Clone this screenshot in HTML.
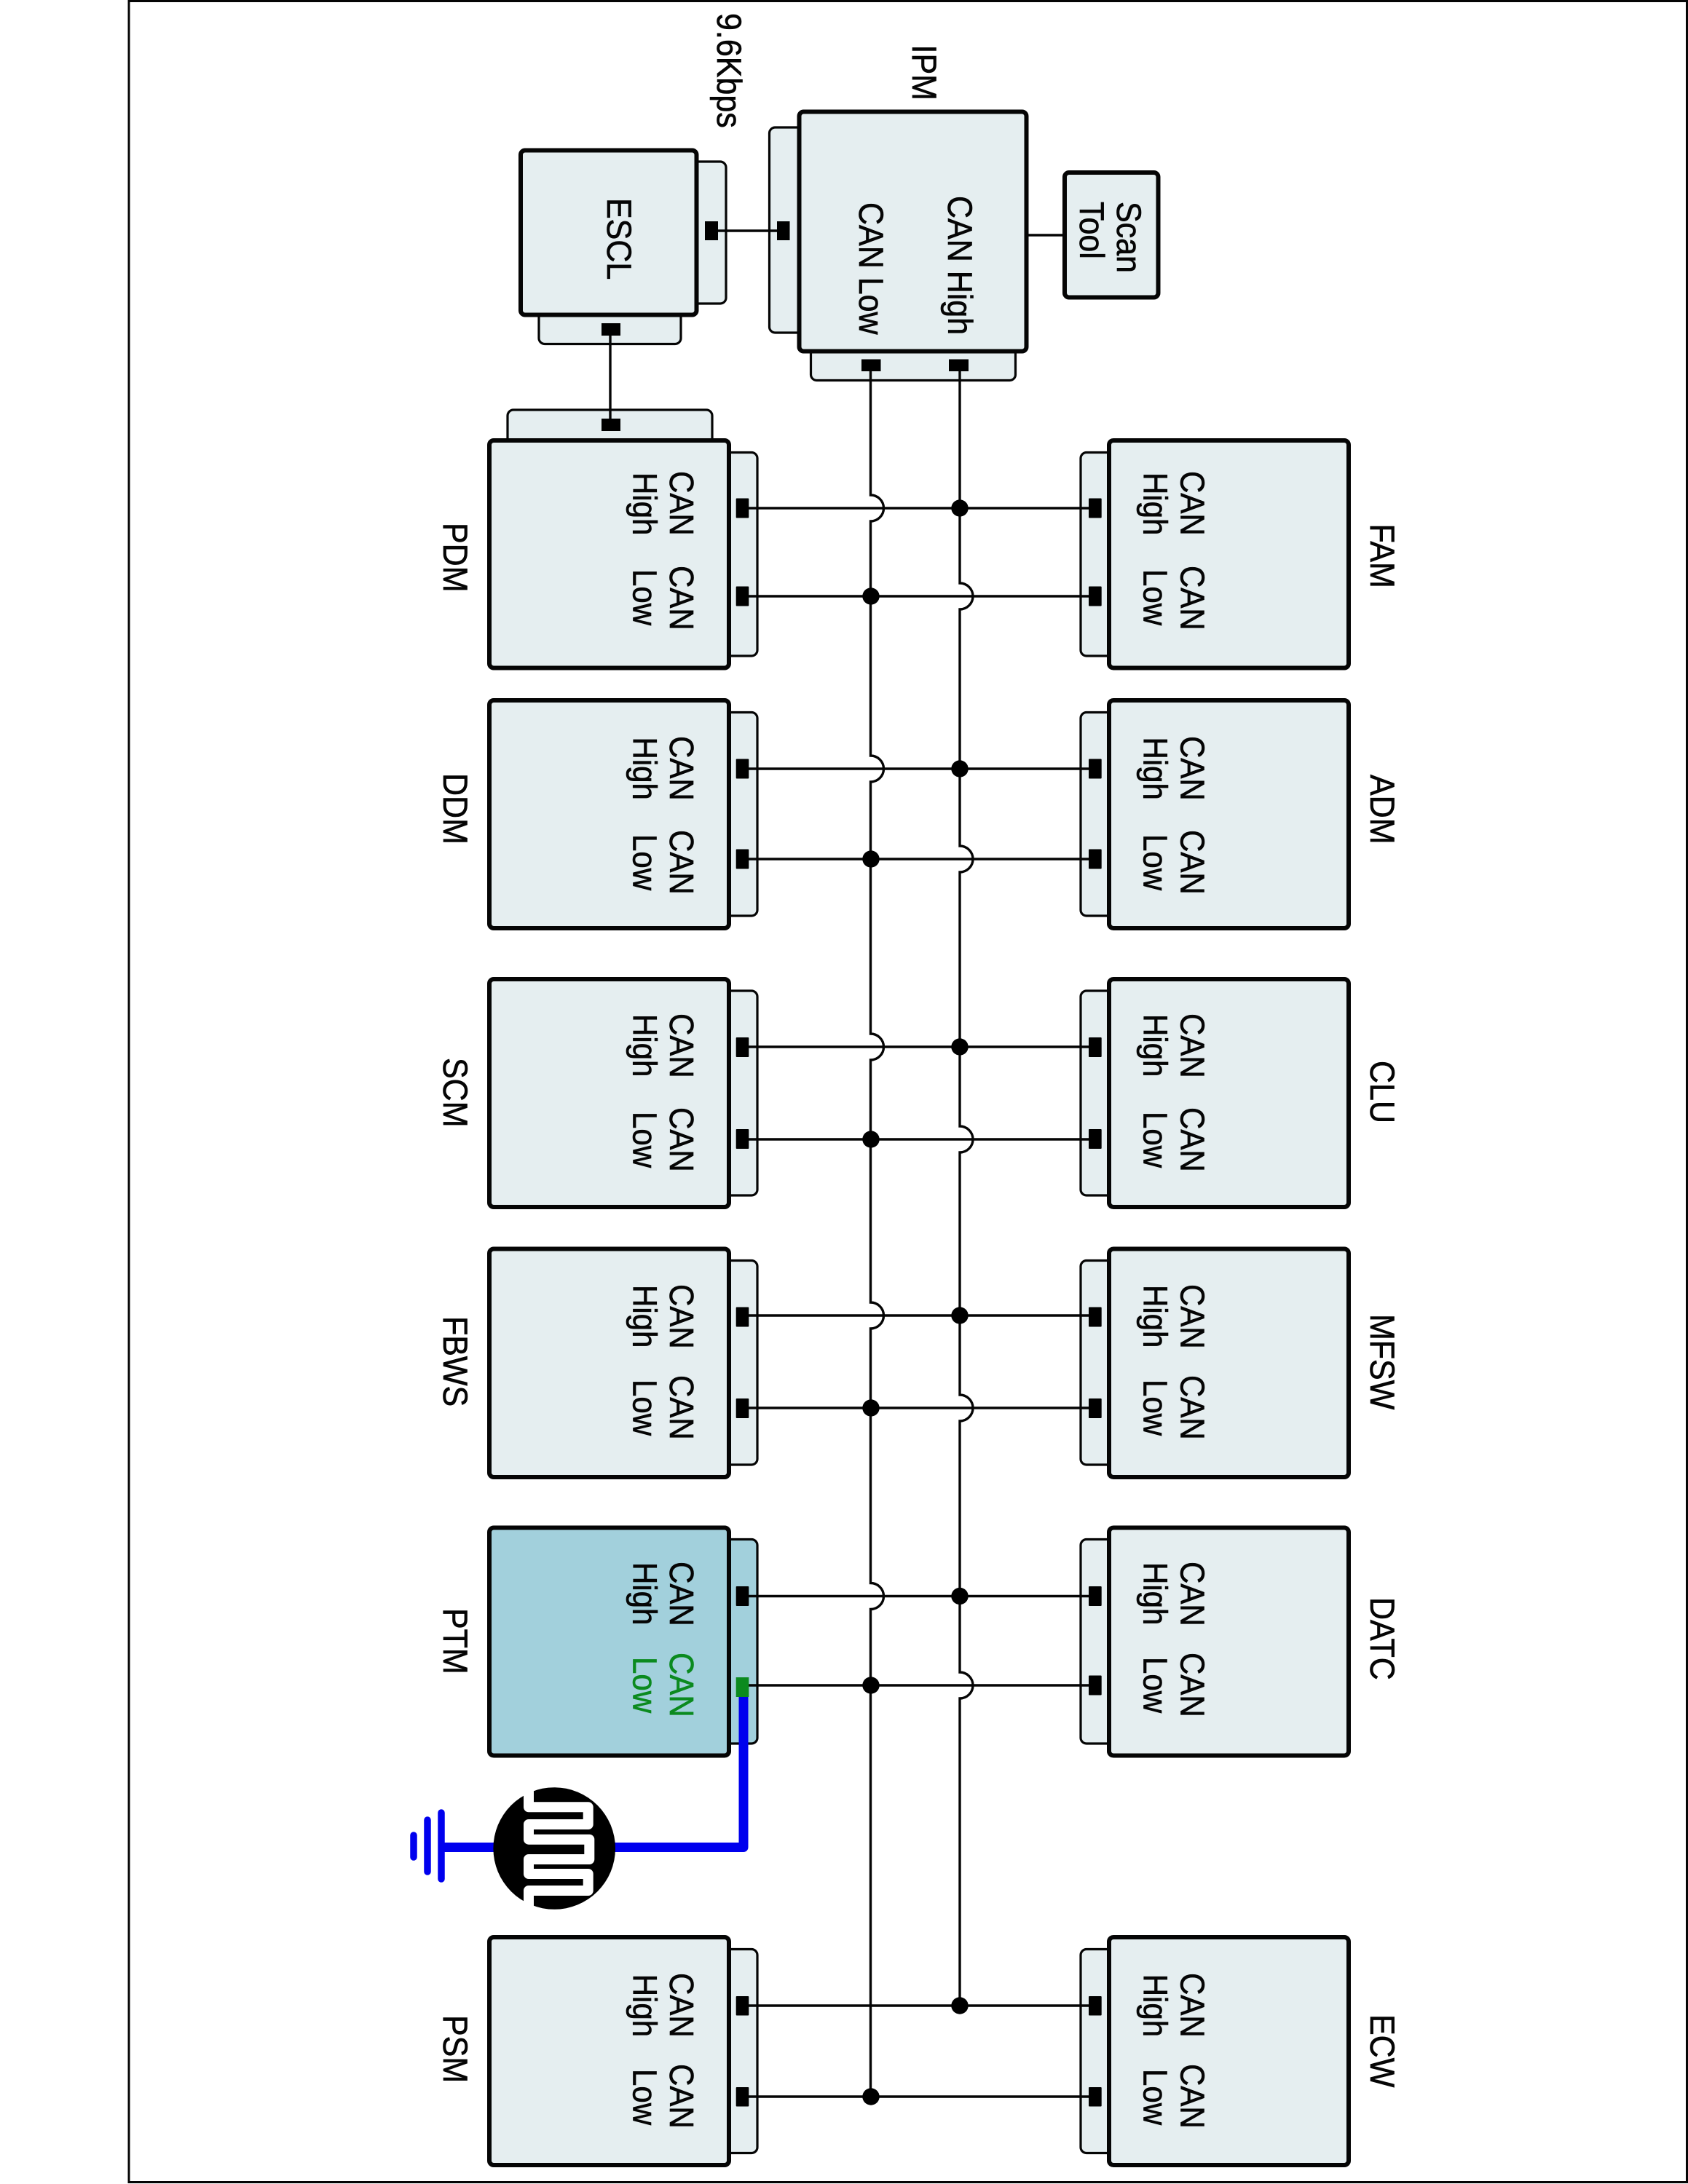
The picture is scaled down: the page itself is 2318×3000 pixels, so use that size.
<!DOCTYPE html>
<html lang="en">
<head>
<meta charset="utf-8">
<title>CAN network diagram</title>
<style>
html,body{margin:0;padding:0;background:#fff;width:2318px;height:3000px;overflow:hidden}
svg{display:block}
text{font-family:"Liberation Sans",Arial,sans-serif;font-size:42px;fill:#050505;stroke:#050505;stroke-width:.6px}
.l{font-size:43px}
.b{fill:#e5eef0;stroke:#050505;stroke-width:6}
.tb{fill:#e5eef0;stroke:#050505;stroke-width:3.2}
.pb{fill:#a2d0dc;stroke:#050505;stroke-width:6}
.tp{fill:#a2d0dc;stroke:#050505;stroke-width:3.2}
.w{fill:none;stroke:#050505;stroke-width:3.4}
text.g{fill:#0b8a1f;stroke:#0b8a1f}
</style>
</head>
<body>
<svg xmlns="http://www.w3.org/2000/svg" width="2318" height="3000" viewBox="0 0 2318 3000">
<rect width="2318" height="3000" fill="#fff"/>
<rect x="177" y="1.5" width="2139.5" height="2996" fill="none" stroke="#050505" stroke-width="3"/>

<!-- tabs -->
<rect class="tb" x="940" y="222" width="57" height="195" rx="8"/>
<rect class="tb" x="740" y="410" width="195" height="62.5" rx="8"/>
<rect class="tb" x="1056.5" y="175" width="60" height="282" rx="8"/>
<rect class="tb" x="1113.5" y="460" width="281" height="62.5" rx="8"/>
<rect class="tb" x="697" y="563" width="281" height="60" rx="8"/>

<rect class="tb" x="980" y="621.5" width="60" height="279.5" rx="8"/>
<rect class="tb" x="1484" y="621.5" width="60" height="279.5" rx="8"/>
<rect class="tb" x="980" y="978.5" width="60" height="279.5" rx="8"/>
<rect class="tb" x="1484" y="978.5" width="60" height="279.5" rx="8"/>
<rect class="tb" x="980" y="1361" width="60" height="281" rx="8"/>
<rect class="tb" x="1484" y="1361" width="60" height="281" rx="8"/>
<rect class="tb" x="980" y="1731.5" width="60" height="280.5" rx="8"/>
<rect class="tb" x="1484" y="1731.5" width="60" height="280.5" rx="8"/>
<rect class="tp" x="980" y="2114.5" width="60" height="280.5" rx="8"/>
<rect class="tb" x="1484" y="2114.5" width="60" height="280.5" rx="8"/>
<rect class="tb" x="980" y="2677.5" width="60" height="280" rx="8"/>
<rect class="tb" x="1484" y="2677.5" width="60" height="280" rx="8"/>

<!-- boxes -->
<rect class="b" x="715" y="206.5" width="241.5" height="226" rx="6"/>
<rect class="b" x="1097.5" y="153.5" width="312" height="329" rx="6"/>
<rect class="b" x="1462" y="237" width="128.5" height="171.5" rx="6"/>

<rect class="b" x="672" y="605" width="329" height="312.5" rx="6"/>
<rect class="b" x="1523" y="605" width="329" height="312.5" rx="6"/>
<rect class="b" x="672" y="962" width="329" height="313" rx="6"/>
<rect class="b" x="1523" y="962" width="329" height="313" rx="6"/>
<rect class="b" x="672" y="1345" width="329" height="313" rx="6"/>
<rect class="b" x="1523" y="1345" width="329" height="313" rx="6"/>
<rect class="b" x="672" y="1715.5" width="329" height="313.5" rx="6"/>
<rect class="b" x="1523" y="1715.5" width="329" height="313.5" rx="6"/>
<rect class="pb" x="672" y="2098.5" width="329" height="313" rx="6"/>
<rect class="b" x="1523" y="2098.5" width="329" height="313" rx="6"/>
<rect class="b" x="672" y="2661" width="329" height="313" rx="6"/>
<rect class="b" x="1523" y="2661" width="329" height="313" rx="6"/>

<!-- bus lines with jumps -->
<path class="w" d="M1195.5 510V680A18 18 0 0 1 1195.5 716V1038A18 18 0 0 1 1195.5 1074V1420A18 18 0 0 1 1195.5 1456V1789A18 18 0 0 1 1195.5 1825V2174.5A18 18 0 0 1 1195.5 2210.5V2880"/>
<path class="w" d="M1318 510V801A18 18 0 0 1 1318 837V1162A18 18 0 0 1 1318 1198V1547A18 18 0 0 1 1318 1583V1916A18 18 0 0 1 1318 1952V2297A18 18 0 0 1 1318 2333V2755"/>

<!-- other wires -->
<path class="w" d="M838 461V575M986 317H1067M1412 323H1460"/>
<path class="w" d="M1028 698H1495M1028 819H1495M1028 1056H1495M1028 1180H1495M1028 1438H1495M1028 1565H1495M1028 1807H1495M1028 1934H1495M1028 2192.5H1495M1028 2315H1495M1028 2755H1495M1028 2880H1495"/>

<!-- junction dots -->
<g fill="#000">
<circle cx="1318" cy="698" r="11.7"/><circle cx="1196" cy="819" r="11.7"/>
<circle cx="1318" cy="1056" r="11.7"/><circle cx="1196" cy="1180" r="11.7"/>
<circle cx="1318" cy="1438" r="11.7"/><circle cx="1196" cy="1565" r="11.7"/>
<circle cx="1318" cy="1807" r="11.7"/><circle cx="1196" cy="1934" r="11.7"/>
<circle cx="1318" cy="2192.5" r="11.7"/><circle cx="1196" cy="2315" r="11.7"/>
<circle cx="1318" cy="2755" r="11.7"/><circle cx="1196" cy="2880" r="11.7"/>
</g>

<!-- ports -->
<g fill="#000">
<rect x="968" y="304" width="18" height="26"/>
<rect x="826" y="444" width="26" height="17"/>
<rect x="1067" y="304" width="17.5" height="26"/>
<rect x="1183" y="493.5" width="26.5" height="16.5"/>
<rect x="1303" y="493.5" width="27" height="16.5"/>
<rect x="826" y="575" width="26" height="17"/>

<rect x="1010.7" y="684.5" width="17.6" height="27" rx="1"/><rect x="1495" y="684.5" width="17.7" height="27" rx="1"/>
<rect x="1010.7" y="805.5" width="17.6" height="27" rx="1"/><rect x="1495" y="805.5" width="17.7" height="27" rx="1"/>
<rect x="1010.7" y="1042.5" width="17.6" height="27" rx="1"/><rect x="1495" y="1042.5" width="17.7" height="27" rx="1"/>
<rect x="1010.7" y="1166.5" width="17.6" height="27" rx="1"/><rect x="1495" y="1166.5" width="17.7" height="27" rx="1"/>
<rect x="1010.7" y="1425" width="17.6" height="27" rx="1"/><rect x="1495" y="1425" width="17.7" height="27" rx="1"/>
<rect x="1010.7" y="1551" width="17.6" height="27" rx="1"/><rect x="1495" y="1551" width="17.7" height="27" rx="1"/>
<rect x="1010.7" y="1795.5" width="17.6" height="27" rx="1"/><rect x="1495" y="1795.5" width="17.7" height="27" rx="1"/>
<rect x="1010.7" y="1921" width="17.6" height="27" rx="1"/><rect x="1495" y="1921" width="17.7" height="27" rx="1"/>
<rect x="1010.7" y="2179" width="17.6" height="27" rx="1"/><rect x="1495" y="2179" width="17.7" height="27" rx="1"/>
<rect x="1495" y="2301.5" width="17.7" height="27" rx="1"/>
<rect x="1010.7" y="2742" width="17.6" height="26.5" rx="1"/><rect x="1495" y="2742" width="17.7" height="26.5" rx="1"/>
<rect x="1010.7" y="2867" width="17.6" height="26.5" rx="1"/><rect x="1495" y="2867" width="17.7" height="26.5" rx="1"/>
</g>

<!-- blue ground circuit -->
<path d="M1021 2331V2537.5H606" fill="none" stroke="#0000ee" stroke-width="13" stroke-linejoin="round"/>
<rect x="1010.7" y="2304" width="17.6" height="27" fill="#0b8a1f"/>
<g stroke="#0000ee" stroke-width="9.5" stroke-linecap="round">
<path d="M606 2490V2581M587 2500V2571M568 2521V2551"/>
</g>
<circle cx="761.2" cy="2539" r="83.8" fill="#000"/>
<path d="M726 2445V2482.3H807.7V2506H726V2526.7H809.3V2554H726V2574H807.7V2597H726V2635" fill="none" stroke="#fff" stroke-width="14" stroke-linejoin="round"/>

<!-- top texts -->
<text class="l" transform="translate(985 18) rotate(90) scale(1 1.11)">9.6Kbps</text>
<text class="l" transform="translate(1253 61.5) rotate(90) scale(1 1.11)">IPM</text>
<text class="l" transform="translate(834 272) rotate(90) scale(1 1.11)">ESCL</text>
<text class="l" transform="translate(1302 269) rotate(90) scale(1 1.11)">CAN High</text>
<text class="l" transform="translate(1180 278) rotate(90) scale(1 1.11)">CAN Low</text>
<text class="l" transform="translate(1534 277) rotate(90) scale(1 1.11)">Scan</text>
<text class="l" transform="translate(1483 277) rotate(90) scale(1 1.11)">Tool</text>

<!-- PDM / FAM -->
<text class="l" transform="translate(609 718) rotate(90) scale(1 1.11)">PDM</text>
<text transform="translate(920 647) rotate(90) scale(1 1.11)">CAN</text>
<text transform="translate(869.5 649) rotate(90) scale(1 1.11)">High</text>
<text transform="translate(920 777) rotate(90) scale(1 1.11)">CAN</text>
<text transform="translate(869.5 782) rotate(90) scale(1 1.11)">Low</text>
<text class="l" transform="translate(1882 719.5) rotate(90) scale(1 1.11)">FAM</text>
<text transform="translate(1621.5 647) rotate(90) scale(1 1.11)">CAN</text>
<text transform="translate(1570.5 649) rotate(90) scale(1 1.11)">High</text>
<text transform="translate(1621.5 777) rotate(90) scale(1 1.11)">CAN</text>
<text transform="translate(1570.5 782) rotate(90) scale(1 1.11)">Low</text>

<!-- DDM / ADM -->
<text class="l" transform="translate(609 1062) rotate(90) scale(1 1.11)">DDM</text>
<text transform="translate(920 1011) rotate(90) scale(1 1.11)">CAN</text>
<text transform="translate(869.5 1012.5) rotate(90) scale(1 1.11)">High</text>
<text transform="translate(920 1140) rotate(90) scale(1 1.11)">CAN</text>
<text transform="translate(869.5 1146) rotate(90) scale(1 1.11)">Low</text>
<text class="l" transform="translate(1882 1064) rotate(90) scale(1 1.11)">ADM</text>
<text transform="translate(1621.5 1011) rotate(90) scale(1 1.11)">CAN</text>
<text transform="translate(1570.5 1012.5) rotate(90) scale(1 1.11)">High</text>
<text transform="translate(1621.5 1140) rotate(90) scale(1 1.11)">CAN</text>
<text transform="translate(1570.5 1146) rotate(90) scale(1 1.11)">Low</text>

<!-- SCM / CLU -->
<text class="l" transform="translate(609 1453) rotate(90) scale(1 1.11)">SCM</text>
<text transform="translate(920 1392) rotate(90) scale(1 1.11)">CAN</text>
<text transform="translate(869.5 1393) rotate(90) scale(1 1.11)">High</text>
<text transform="translate(920 1521) rotate(90) scale(1 1.11)">CAN</text>
<text transform="translate(869.5 1527) rotate(90) scale(1 1.11)">Low</text>
<text class="l" transform="translate(1882 1457) rotate(90) scale(1 1.11)">CLU</text>
<text transform="translate(1621.5 1392) rotate(90) scale(1 1.11)">CAN</text>
<text transform="translate(1570.5 1393) rotate(90) scale(1 1.11)">High</text>
<text transform="translate(1621.5 1521) rotate(90) scale(1 1.11)">CAN</text>
<text transform="translate(1570.5 1527) rotate(90) scale(1 1.11)">Low</text>

<!-- FBWS / MFSW -->
<text class="l" transform="translate(609 1808) rotate(90) scale(1 1.11)">FBWS</text>
<text transform="translate(920 1764) rotate(90) scale(1 1.11)">CAN</text>
<text transform="translate(869.5 1765) rotate(90) scale(1 1.11)">High</text>
<text transform="translate(920 1889) rotate(90) scale(1 1.11)">CAN</text>
<text transform="translate(869.5 1895) rotate(90) scale(1 1.11)">Low</text>
<text class="l" transform="translate(1882 1805) rotate(90) scale(1 1.11)">MFSW</text>
<text transform="translate(1621.5 1764) rotate(90) scale(1 1.11)">CAN</text>
<text transform="translate(1570.5 1765) rotate(90) scale(1 1.11)">High</text>
<text transform="translate(1621.5 1889) rotate(90) scale(1 1.11)">CAN</text>
<text transform="translate(1570.5 1895) rotate(90) scale(1 1.11)">Low</text>

<!-- PTM / DATC -->
<text class="l" transform="translate(609 2209) rotate(90) scale(1 1.11)">PTM</text>
<text transform="translate(920 2145) rotate(90) scale(1 1.11)">CAN</text>
<text transform="translate(869.5 2146) rotate(90) scale(1 1.11)">High</text>
<text class="g" transform="translate(920 2270) rotate(90) scale(1 1.11)">CAN</text>
<text class="g" transform="translate(869.5 2276) rotate(90) scale(1 1.11)">Low</text>
<text class="l" transform="translate(1882 2194) rotate(90) scale(1 1.11)">DATC</text>
<text transform="translate(1621.5 2145) rotate(90) scale(1 1.11)">CAN</text>
<text transform="translate(1570.5 2146) rotate(90) scale(1 1.11)">High</text>
<text transform="translate(1621.5 2270) rotate(90) scale(1 1.11)">CAN</text>
<text transform="translate(1570.5 2276) rotate(90) scale(1 1.11)">Low</text>

<!-- PSM / ECW -->
<text class="l" transform="translate(609 2768) rotate(90) scale(1 1.11)">PSM</text>
<text transform="translate(920 2710) rotate(90) scale(1 1.11)">CAN</text>
<text transform="translate(869.5 2711.7) rotate(90) scale(1 1.11)">High</text>
<text transform="translate(920 2835) rotate(90) scale(1 1.11)">CAN</text>
<text transform="translate(869.5 2842) rotate(90) scale(1 1.11)">Low</text>
<text class="l" transform="translate(1882 2767) rotate(90) scale(1 1.11)">ECW</text>
<text transform="translate(1621.5 2710) rotate(90) scale(1 1.11)">CAN</text>
<text transform="translate(1570.5 2711.7) rotate(90) scale(1 1.11)">High</text>
<text transform="translate(1621.5 2835) rotate(90) scale(1 1.11)">CAN</text>
<text transform="translate(1570.5 2842) rotate(90) scale(1 1.11)">Low</text>
</svg>
</body>
</html>
